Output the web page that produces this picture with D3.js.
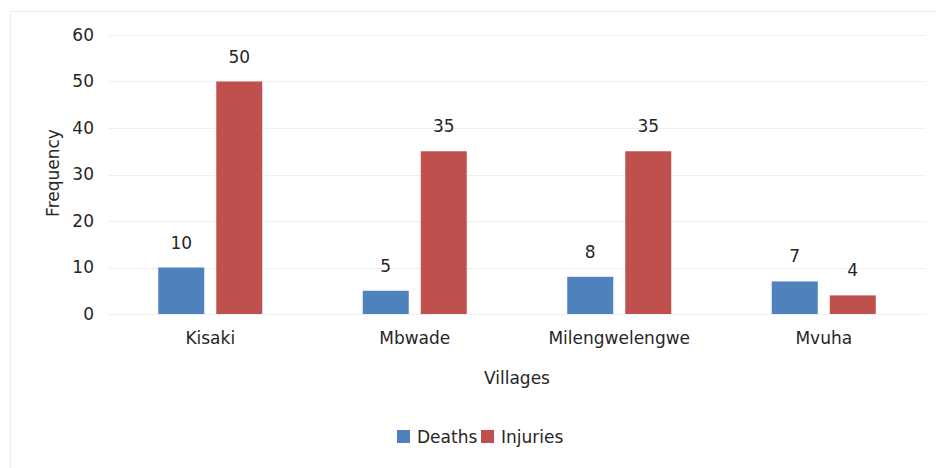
<!DOCTYPE html>
<html>
<head>
<meta charset="utf-8">
<script src="https://cdn.jsdelivr.net/npm/d3@7"></script>
<style>
  body { margin: 0; background: #fff; }
  text { font-family: "DejaVu Sans", sans-serif; fill: #262626; }
</style>
</head>
<body>
<script>
var villages = ["Kisaki", "Mbwade", "Milengwelengwe", "Mvuha"];
var series = ["Deaths", "Injuries"];
var deaths = [10, 5, 8, 7];
var injuries = [50, 35, 35, 4];
var yTicks = [0, 10, 20, 30, 40, 50, 60];
var colors = ["#4f81bd", "#c0504d"];

var width = 936, height = 468;

var svg = d3.select("body").append("svg")
    .attr("width", width)
    .attr("height", height);

// chart area border
svg.append("rect")
    .attr("x", 10.5).attr("y", 11.5)
    .attr("width", 940).attr("height", 470)
    .attr("fill", "#fff")
    .attr("stroke", "#ececec");

var x0 = d3.scaleBand().domain(villages).range([108, 926]);
var x1 = d3.scaleBand().domain(series).range([0, x0.bandwidth()])
    .paddingInner(0.207).paddingOuter(0.866);
var y = d3.scaleLinear().domain([0, 60]).range([314, 35]);

// gridlines
svg.selectAll(".grid")
    .data(yTicks)
  .enter().append("line")
    .attr("class", "grid")
    .attr("x1", 108).attr("x2", 926)
    .attr("y1", function(d) { return Math.round(y(d)) + 0.5; })
    .attr("y2", function(d) { return Math.round(y(d)) + 0.5; })
    .attr("stroke", "#efefef");

// y axis labels
var yAxis = d3.axisLeft(y).tickValues(yTicks).tickSize(0).tickPadding(14);
var gy = svg.append("g").attr("transform", "translate(108,0)").call(yAxis);
gy.select(".domain").remove();
gy.selectAll("text").style("font-size", "17px").style("font-family", "DejaVu Sans").attr("fill", "#262626");

// x axis labels
var xAxis = d3.axisBottom(x0).tickSize(0).tickPadding(18);
var gx = svg.append("g").attr("transform", "translate(0,314)").call(xAxis);
gx.select(".domain").remove();
gx.selectAll("text").style("font-size", "17px").style("font-family", "DejaVu Sans").attr("fill", "#262626");

var rows = villages.map(function(v, i) {
  return { village: v, values: [deaths[i], injuries[i]] };
});

var groups = svg.selectAll(".village")
    .data(rows)
  .enter().append("g")
    .attr("class", "village")
    .attr("transform", function(d) { return "translate(" + x0(d.village) + ",0)"; });

groups.selectAll("rect")
    .data(function(d) { return d.values.map(function(v, j) { return { key: series[j], value: v, j: j }; }); })
  .enter().append("rect")
    .attr("x", function(d) { return x1(d.key); })
    .attr("y", function(d) { return y(d.value); })
    .attr("width", x1.bandwidth())
    .attr("height", function(d) { return y(0) - y(d.value); })
    .attr("fill", function(d) { return colors[d.j]; });

groups.selectAll(".lbl")
    .data(function(d) { return d.values.map(function(v, j) { return { key: series[j], value: v }; }); })
  .enter().append("text")
    .attr("class", "lbl")
    .attr("x", function(d) { return x1(d.key) + x1.bandwidth() / 2; })
    .attr("y", function(d) { return y(d.value) - 19; })
    .attr("text-anchor", "middle")
    .style("font-size", "17px")
    .text(function(d) { return d.value; });

// axis titles
svg.append("text")
    .attr("transform", "translate(59,173) rotate(-90)")
    .attr("text-anchor", "middle")
    .style("font-size", "17px")
    .text("Frequency");

svg.append("text")
    .attr("x", 517).attr("y", 384)
    .attr("text-anchor", "middle")
    .style("font-size", "17px")
    .text("Villages");

// legend
var legend = svg.append("g").attr("transform", "translate(397,430)");
var legX = [0, 84];
series.forEach(function(s, i) {
  legend.append("rect")
    .attr("x", legX[i]).attr("y", 0)
    .attr("width", 13).attr("height", 13)
    .attr("fill", colors[i]);
  legend.append("text")
    .attr("x", legX[i] + 20).attr("y", 13)
    .style("font-size", "17px")
    .text(s);
});
</script>
</body>
</html>
